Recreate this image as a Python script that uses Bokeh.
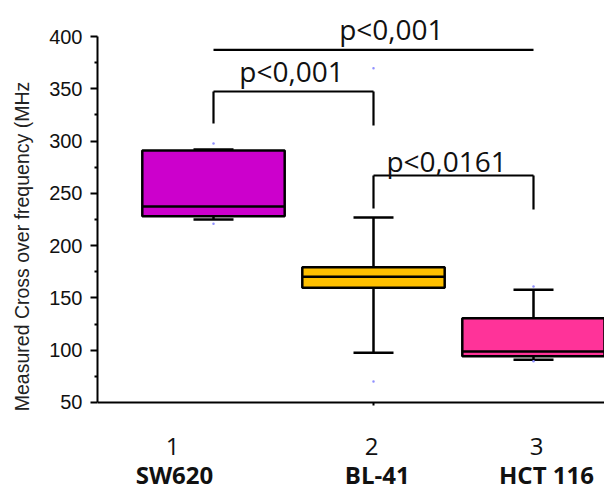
from bokeh.plotting import figure
from bokeh.models import Label, Range1d, FixedTicker, LinearAxis
from bokeh.embed import file_html
from bokeh.resources import INLINE

# ---- data ----
groups = [1, 2, 3]
group_numbers = ["1", "2", "3"]
cell_lines = ["SW620", "BL-41", "HCT 116"]
lower = [225.0, 97.5, 90.8]
q1 = [228.0, 159.7, 94.3]
median = [237.5, 170.2, 98.8]
q3 = [291.0, 179.4, 130.6]
upper = [292.0, 227.0, 157.8]
colors = ["#CC00CC", "#FFC000", "#FF3399"]
dot_x = [1, 1, 2, 2, 3, 3]
dot_y = [297.7, 221.0, 369.7, 70.0, 161.0, 89.5]

# significance brackets
br_from = [1, 1, 2]
br_to = [3, 2, 3]
br_y = [387.3, 347.4, 267.1]
br_left_end = [None, 316.8, 235.5]
br_right_end = [None, 314.9, 234.6]
br_text = ["p<0,001", "p<0,001", "p<0,0161"]
br_text_x = [2.1116, 1.4875, 2.457]
br_text_y = [407.0, 367.2, 281.4]

y_ticks = [50, 100, 150, 200, 250, 300, 350, 400]
y_minor = [75, 125, 175, 225, 275, 325, 375]
y_title = "Measured Cross over frequency (MHz"

# label placement (hand-placed category labels below the axis)
num_x = [0.744, 1.9875, 3.019]
num_y = 8.3
name_x = [0.756, 2.023, 3.081]
name_y = -19.2

# ---- layout ----
box_w = 0.89
cap_w = 0.25

p = figure(width=604, height=492, output_backend="svg", toolbar_location=None,
           x_range=Range1d(0.275, 3.44375), y_range=Range1d(-36.07, 434.43),
           x_axis_location=None, y_axis_location=None,
           min_border_left=97, min_border_right=0, min_border_top=0, min_border_bottom=0)
p.outline_line_color = None
p.grid.visible = False
p.background_fill_color = "white"
p.border_fill_color = "white"

# whiskers
p.segment(x0=groups, y0=q3, x1=groups, y1=upper, line_color="black", line_width=2.5)
p.segment(x0=groups, y0=q1, x1=groups, y1=lower, line_color="black", line_width=2.5)
p.segment(x0=[g - cap_w / 2 for g in groups], y0=upper, x1=[g + cap_w / 2 for g in groups], y1=upper,
          line_color="black", line_width=2.5)
p.segment(x0=[g - cap_w / 2 for g in groups], y0=lower, x1=[g + cap_w / 2 for g in groups], y1=lower,
          line_color="black", line_width=2.5)
# boxes
p.vbar(x=groups, width=box_w, top=q3, bottom=q1, fill_color=colors, line_color="black", line_width=2.5)
p.segment(x0=[g - box_w / 2 for g in groups], y0=median, x1=[g + box_w / 2 for g in groups], y1=median,
          line_color="black", line_width=2.5)
# small points
p.scatter(x=dot_x, y=dot_y, size=2.5, color="#9090ff", line_color=None)

# brackets
for a, b, y, le, re_, t, tx, ty in zip(br_from, br_to, br_y, br_left_end, br_right_end, br_text, br_text_x, br_text_y):
    p.line(x=[a, b], y=[y, y], line_color="black", line_width=2.2)
    if le is not None:
        p.line(x=[a, a], y=[y, le], line_color="black", line_width=2.2)
        p.line(x=[b, b], y=[y, re_], line_color="black", line_width=2.2)
    p.add_layout(Label(x=tx, y=ty, text=t, text_align="center", text_baseline="alphabetic",
                       text_font="Open Sans", text_font_size="28px", text_color="#111111"))

# y axis with ticks
yax = LinearAxis(ticker=FixedTicker(ticks=y_ticks, minor_ticks=y_minor), bounds=(50, 400))
yax.axis_line_width = 2
yax.major_tick_line_width = 2
yax.minor_tick_line_width = 2
yax.major_tick_out = 7
yax.major_tick_in = 0
yax.minor_tick_out = 3
yax.minor_tick_in = 0
yax.major_label_standoff = 8
yax.major_label_text_font = "Liberation Sans"
yax.major_label_text_font_size = "20px"
yax.major_label_text_color = "#111111"
p.add_layout(yax, "left")

# outer y axis carrying only the title
ytit = LinearAxis(ticker=FixedTicker(ticks=[]), bounds=(90, 400))
ytit.axis_line_color = None
ytit.major_tick_line_color = None
ytit.minor_tick_line_color = None
ytit.axis_label = y_title
ytit.axis_label_standoff = 14
ytit.axis_label_text_font = "Liberation Sans"
ytit.axis_label_text_font_style = "normal"
ytit.axis_label_text_font_size = "19.5px"
ytit.axis_label_text_color = "#222222"
p.add_layout(ytit, "left")

# x axis line with a single tick, fixed at y = 50
xax = LinearAxis(ticker=FixedTicker(ticks=[], minor_ticks=[2]), fixed_location=50)
xax.axis_line_width = 2
xax.minor_tick_line_width = 2
xax.minor_tick_out = 3
xax.minor_tick_in = 0
xax.major_tick_line_color = None
p.add_layout(xax, "below")

# category labels
for nx, t in zip(num_x, group_numbers):
    p.add_layout(Label(x=nx, y=num_y, text=t, text_align="center", text_baseline="alphabetic",
                       text_font="Open Sans", text_font_size="24px", text_color="#111111"))
for nx, t in zip(name_x, cell_lines):
    p.add_layout(Label(x=nx, y=name_y, text=t, text_align="center", text_baseline="alphabetic",
                       text_font="Open Sans", text_font_size="24px", text_font_style="bold",
                       text_color="#111111"))

open("out.html", "w").write(file_html(p, INLINE))
